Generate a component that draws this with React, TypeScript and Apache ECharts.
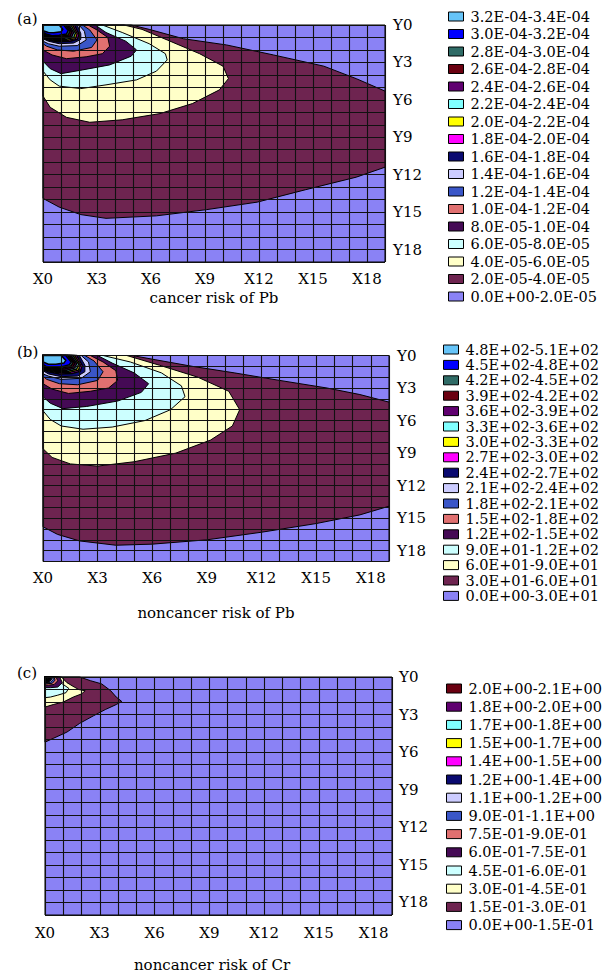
import React, { useEffect, useRef } from 'react';
import * as echarts from 'echarts';

const FONT = "'DejaVu Serif', 'Liberation Serif', serif";

const X_LABELS = ['X0', 'X3', 'X6', 'X9', 'X12', 'X15', 'X18'];
const Y_LABELS = ['Y0', 'Y3', 'Y6', 'Y9', 'Y12', 'Y15', 'Y18'];
const GRID_MAX = 19;

// fill colour of each contour band, lowest band first
const LEVEL_COLORS = [
  '#8a82f5', '#6e2450', '#ffffc8', '#ccffff', '#450a55', '#e07070', '#3a56c8', '#ccccff',
  '#0a0a70', '#ff00ff', '#ffff00', '#80ffff', '#600070', '#6a0010', '#2f6b66', '#0000ff', '#66c4f8',
];

const LABELS_A = [
  '0.0E+00-2.0E-05', '2.0E-05-4.0E-05', '4.0E-05-6.0E-05', '6.0E-05-8.0E-05', '8.0E-05-1.0E-04',
  '1.0E-04-1.2E-04', '1.2E-04-1.4E-04', '1.4E-04-1.6E-04', '1.6E-04-1.8E-04', '1.8E-04-2.0E-04',
  '2.0E-04-2.2E-04', '2.2E-04-2.4E-04', '2.4E-04-2.6E-04', '2.6E-04-2.8E-04', '2.8E-04-3.0E-04',
  '3.0E-04-3.2E-04', '3.2E-04-3.4E-04',
];
const LABELS_B = [
  '0.0E+00-3.0E+01', '3.0E+01-6.0E+01', '6.0E+01-9.0E+01', '9.0E+01-1.2E+02', '1.2E+02-1.5E+02',
  '1.5E+02-1.8E+02', '1.8E+02-2.1E+02', '2.1E+02-2.4E+02', '2.4E+02-2.7E+02', '2.7E+02-3.0E+02',
  '3.0E+02-3.3E+02', '3.3E+02-3.6E+02', '3.6E+02-3.9E+02', '3.9E+02-4.2E+02', '4.2E+02-4.5E+02',
  '4.5E+02-4.8E+02', '4.8E+02-5.1E+02',
];
const LABELS_C = [
  '0.0E+00-1.5E-01', '1.5E-01-3.0E-01', '3.0E-01-4.5E-01', '4.5E-01-6.0E-01', '6.0E-01-7.5E-01',
  '7.5E-01-9.0E-01', '9.0E-01-1.1E+00', '1.1E+00-1.2E+00', '1.2E+00-1.4E+00', '1.4E+00-1.5E+00',
  '1.5E+00-1.7E+00', '1.7E+00-1.8E+00', '1.8E+00-2.0E+00', '2.0E+00-2.1E+00',
];

type Pt = [number, number];

// contour band outlines in grid units (x: X index, y: Y index)
const BAND_A: Pt[][] = [
  [[0, 0], [19, 0], [19, 19], [0, 19]],
  [[0, 0], [4.9, 0], [5.9, 0.35], [7.8, 1.1], [10.2, 1.6], [12.8, 2.4], [15.6, 3.3], [17.4, 4.3], [19, 5.3], [19, 11.4], [17.4, 12.2], [14.6, 13.2], [11.9, 14.2], [9.1, 14.8], [6.3, 15.3], [3.5, 15.5], [2.1, 15.2], [0.9, 14.6], [0, 13.9]],
  [[0, 0], [4.5, 0], [5.5, 0.35], [6.9, 1.2], [8.7, 2.3], [10.0, 3.3], [10.3, 4.3], [9.8, 5.2], [8.3, 6.3], [6.5, 7.1], [4.4, 7.6], [2.6, 7.8], [1.3, 7.4], [0.4, 6.6], [0, 5.7]],
  [[0, 0], [3.3, 0], [4.4, 0.6], [5.9, 1.5], [6.8, 2.3], [6.9, 2.8], [6.3, 3.7], [5.2, 4.4], [3.5, 4.8], [2.1, 5.1], [0.9, 4.9], [0.4, 4.4], [0, 3.7]],
  [[0, 0], [2.9, 0], [3.5, 0.6], [4.6, 1.3], [5.2, 2.0], [4.9, 2.5], [3.7, 3.2], [2.2, 3.6], [1.0, 3.9], [0.4, 3.5], [0, 2.9]],
  [[0, 0], [2.5, 0], [3.0, 0.4], [3.6, 1.0], [3.7, 1.7], [3.3, 2.3], [2.4, 2.55], [1.3, 2.7], [0.5, 2.4], [0, 2.0]],
  [[0, 0], [2.2, 0], [2.6, 0.4], [3.0, 1.2], [2.7, 1.8], [1.7, 2.1], [0.8, 2.0], [0.2, 1.7], [0, 1.5]],
  [[0, 0], [2.0, 0], [2.3, 0.5], [2.4, 1.2], [1.9, 1.65], [0.9, 1.7], [0.3, 1.5], [0, 1.3]],
  [[0, 0], [1.9, 0], [2.1, 0.7], [2.1, 1.15], [1.7, 1.45], [0.9, 1.5], [0.3, 1.3], [0, 1.1]],
  [[0, 0], [1.75, 0], [2.0, 0.75], [1.9, 1.15], [1.5, 1.3], [0.8, 1.35], [0.3, 1.2], [0, 1.05]],
  [[0, 0], [1.65, 0], [1.9, 0.7], [1.8, 1.1], [1.4, 1.22], [0.75, 1.27], [0.28, 1.12], [0, 0.98]],
  [[0, 0], [1.55, 0], [1.8, 0.65], [1.7, 1.02], [1.3, 1.14], [0.7, 1.18], [0.26, 1.04], [0, 0.9]],
  [[0, 0], [1.45, 0], [1.7, 0.6], [1.6, 0.95], [1.2, 1.06], [0.65, 1.1], [0.24, 0.96], [0, 0.82]],
  [[0, 0], [1.35, 0], [1.6, 0.55], [1.5, 0.88], [1.1, 0.98], [0.6, 1.02], [0.22, 0.88], [0, 0.74]],
  [[0, 0], [1.25, 0], [1.5, 0.5], [1.4, 0.8], [1.0, 0.9], [0.55, 0.94], [0.2, 0.8], [0, 0.66]],
  [[0, 0], [1.15, 0], [1.4, 0.45], [1.3, 0.72], [0.9, 0.82], [0.5, 0.86], [0.18, 0.72], [0, 0.58]],
  [[0, 0], [0.9, 0], [1.1, 0.35], [1.0, 0.55], [0.6, 0.62], [0.3, 0.6], [0, 0.45]],
];

const BAND_B: Pt[][] = [
  [[0, 0], [19, 0], [19, 19], [0, 19]],
  [[0, 0], [4.9, 0], [6.2, 0.4], [8.2, 1.0], [10.5, 1.6], [13, 2.3], [15.6, 3.0], [17.4, 3.6], [19, 4.3], [19, 13.9], [17.4, 14.7], [15, 15.5], [12, 16.3], [9, 17.0], [6, 17.4], [4, 17.5], [2, 17.1], [0.8, 16.5], [0, 15.8]],
  [[0, 0], [4.6, 0], [6.4, 0.9], [8.5, 2.0], [10.2, 3.3], [10.8, 5.0], [10.4, 6.5], [9.2, 7.8], [7.3, 9.0], [5.0, 9.8], [3.0, 10.2], [1.5, 10.0], [0.5, 9.4], [0, 8.6]],
  [[0, 0], [3.3, 0], [4.8, 0.6], [6.5, 1.6], [7.6, 2.8], [7.8, 3.8], [7.0, 5.0], [5.6, 6.0], [3.8, 6.6], [2.2, 6.8], [1.0, 6.5], [0.4, 5.9], [0, 5.1]],
  [[0, 0], [3.0, 0], [3.8, 0.7], [5.0, 1.6], [5.8, 2.6], [5.4, 3.4], [4.1, 4.2], [2.4, 4.7], [1.1, 4.9], [0.4, 4.4], [0, 3.8]],
  [[0, 0], [2.6, 0], [3.3, 0.6], [4.0, 1.4], [4.1, 2.3], [3.6, 3.0], [2.6, 3.3], [1.4, 3.5], [0.5, 3.1], [0, 2.6]],
  [[0, 0], [2.3, 0], [2.8, 0.5], [3.3, 1.5], [3.0, 2.3], [1.9, 2.7], [0.9, 2.6], [0.2, 2.2], [0, 1.9]],
  [[0, 0], [2.1, 0], [2.5, 0.6], [2.6, 1.5], [2.1, 2.1], [1.0, 2.2], [0.3, 1.9], [0, 1.7]],
  [[0, 0], [2.0, 0], [2.3, 0.9], [2.3, 1.5], [1.9, 1.9], [1.0, 1.95], [0.3, 1.7], [0, 1.4]],
  [[0, 0], [1.85, 0], [2.15, 0.9], [2.05, 1.45], [1.6, 1.65], [0.9, 1.7], [0.3, 1.5], [0, 1.3]],
  [[0, 0], [1.75, 0], [2.05, 0.85], [1.95, 1.35], [1.5, 1.55], [0.85, 1.6], [0.28, 1.42], [0, 1.22]],
  [[0, 0], [1.65, 0], [1.95, 0.8], [1.85, 1.25], [1.4, 1.45], [0.8, 1.5], [0.26, 1.34], [0, 1.14]],
  [[0, 0], [1.55, 0], [1.85, 0.75], [1.75, 1.15], [1.3, 1.35], [0.75, 1.4], [0.24, 1.26], [0, 1.06]],
  [[0, 0], [1.45, 0], [1.75, 0.7], [1.65, 1.05], [1.2, 1.25], [0.7, 1.3], [0.22, 1.18], [0, 0.98]],
  [[0, 0], [1.35, 0], [1.65, 0.65], [1.55, 0.95], [1.1, 1.15], [0.65, 1.2], [0.2, 1.1], [0, 0.9]],
  [[0, 0], [1.25, 0], [1.55, 0.6], [1.45, 0.85], [1.0, 1.05], [0.6, 1.1], [0.18, 1.02], [0, 0.82]],
  [[0, 0], [1.0, 0], [1.25, 0.45], [1.15, 0.7], [0.7, 0.8], [0.3, 0.8], [0, 0.6]],
];

const BAND_C: Pt[][] = [
  [[0, 0], [19, 0], [19, 19], [0, 19]],
  [[0, 0], [1.9, 0], [2.5, 0.3], [3.1, 0.55], [3.6, 1.1], [3.9, 1.6], [4.2, 1.95], [3.9, 2.2], [3.3, 2.6], [2.65, 3.1], [1.9, 3.7], [1.2, 4.4], [0.45, 4.9], [0, 5.2]],
  [[0, 0], [0.9, 0], [1.2, 0.45], [1.6, 0.8], [1.85, 1.0], [2.2, 1.1], [2.0, 1.35], [1.55, 1.6], [1.0, 2.0], [0.45, 2.2], [0, 2.4]],
  [[0, 0], [0.7, 0], [0.9, 0.5], [1.3, 0.9], [1.15, 1.25], [0.7, 1.45], [0.3, 1.6], [0, 1.65]],
  [[0, 0], [0.8, 0], [0.95, 0.45], [0.7, 0.8], [0.3, 0.85], [0, 0.85]],
  [[0, 0], [0.6, 0], [0.7, 0.3], [0.5, 0.6], [0.2, 0.65], [0, 0.65]],
  [[0, 0], [0.5, 0], [0.55, 0.25], [0.4, 0.5], [0, 0.55]],
  [[0, 0], [0.42, 0], [0.45, 0.2], [0.3, 0.42], [0, 0.45]],
  [[0, 0], [0.36, 0], [0.38, 0.17], [0.25, 0.36], [0, 0.38]],
  [[0, 0], [0.3, 0], [0.3, 0.14], [0.2, 0.3], [0, 0.3]],
  [[0, 0], [0.25, 0], [0.24, 0.12], [0.15, 0.24], [0, 0.24]],
  [[0, 0], [0.2, 0], [0.2, 0.1], [0.12, 0.2], [0, 0.2]],
  [[0, 0], [0.15, 0], [0.15, 0.08], [0, 0.15]],
  [[0, 0], [0.1, 0], [0, 0.1]],
];

const PANELS = [
  { bands: BAND_A, labels: LABELS_A, grid: { left: 43, top: 25, width: 342, height: 237 },
    legend: { left: 448, top: 9, gap: 2.5 }, tag: '(a)', tagY: 19, title: 'cancer risk of Pb', titleX: 214, titleY: 298, xMargin: 9, yMargin: 8 },
  { bands: BAND_B, labels: LABELS_B, grid: { left: 43, top: 355.5, width: 346, height: 206 },
    legend: { left: 443, top: 342, gap: 0.4 }, tag: '(b)', tagY: 352, title: 'noncancer risk of Pb', titleX: 216, titleY: 613, xMargin: 9, yMargin: 8 },
  { bands: BAND_C, labels: LABELS_C, grid: { left: 45, top: 677, width: 347, height: 238 },
    legend: { left: 446, top: 681, gap: 3.2 }, tag: '(c)', tagY: 673, title: 'noncancer risk of Cr', titleX: 212, titleY: 965, xMargin: 10, yMargin: 7 },
];

const tickLabel = (names: string[]) => (v: number) => {
  const i = v / 3;
  return Number.isInteger(i) && i < names.length ? names[i] : '';
};

function buildOption() {
  const grid: any[] = [];
  const xAxis: any[] = [];
  const yAxis: any[] = [];
  const series: any[] = [];
  const legend: any[] = [];
  const graphic: any[] = [];
  const axisText = { fontFamily: FONT, fontSize: 15, color: '#000', showMinLabel: true, showMaxLabel: true, hideOverlap: false };
  const lineStyle = { color: '#111', width: 1.1 };

  PANELS.forEach((p, gi) => {
    grid.push({ ...p.grid, show: false, containLabel: false });
    xAxis.push({
      type: 'value', gridIndex: gi, min: 0, max: GRID_MAX, interval: 1, z: 10, position: 'bottom',
      axisLine: { show: false, onZero: false }, axisTick: { show: false },
      splitLine: { show: true, lineStyle },
      axisLabel: { ...axisText, margin: p.xMargin, formatter: tickLabel(X_LABELS) },
    });
    yAxis.push({
      type: 'value', gridIndex: gi, min: 0, max: GRID_MAX, interval: 1, z: 10, inverse: true, position: 'right',
      axisLine: { show: false, onZero: false }, axisTick: { show: false },
      splitLine: { show: true, lineStyle },
      axisLabel: { ...axisText, margin: p.yMargin, formatter: tickLabel(Y_LABELS) },
    });
    p.bands.forEach((poly, lvl) => {
      const color = LEVEL_COLORS[lvl];
      const lineWidth = lvl >= 9 ? 1.5 : 1;
      series.push({
        type: 'custom', name: p.labels[lvl], xAxisIndex: gi, yAxisIndex: gi, silent: true,
        itemStyle: { color }, data: poly, encode: { x: 0, y: 1 }, z: 2,
        renderItem: (params: any, api: any) => {
          if (params.dataIndex !== 0) return null;
          const points = poly.map((pt) => api.coord(pt));
          return { type: 'polygon', shape: { points }, style: { fill: color, stroke: '#000', lineWidth } };
        },
      });
    });
    legend.push({
      orient: 'vertical', left: p.legend.left, top: p.legend.top, itemGap: p.legend.gap,
      itemWidth: 15, itemHeight: 9, icon: 'rect', selectedMode: false, padding: 0,
      itemStyle: { borderColor: '#000', borderWidth: 1 },
      textStyle: { fontFamily: FONT, fontSize: 14.5, color: '#000', lineHeight: 14, padding: [0, 0, 0, 2] },
      data: [...p.labels].reverse(),
    });
    graphic.push({
      type: 'text', x: 17, y: p.tagY,
      style: { text: p.tag, fill: '#000', fontFamily: FONT, fontSize: 15, align: 'left', verticalAlign: 'middle' },
    });
    graphic.push({
      type: 'text', x: p.titleX, y: p.titleY,
      style: { text: p.title, fill: '#000', fontFamily: FONT, fontSize: 15, align: 'center', verticalAlign: 'middle' },
    });
  });

  return { animation: false, backgroundColor: '#fff', grid, xAxis, yAxis, series, legend, graphic };
}

export default function App() {
  const ref = useRef<HTMLDivElement>(null);
  useEffect(() => {
    if (!ref.current) return;
    const chart = echarts.init(ref.current, undefined, { renderer: 'svg' });
    chart.setOption(buildOption() as any);
    return () => chart.dispose();
  }, []);
  return <div ref={ref} style={{ position: 'absolute', left: 0, top: 0, width: 609, height: 975 }} />;
}
